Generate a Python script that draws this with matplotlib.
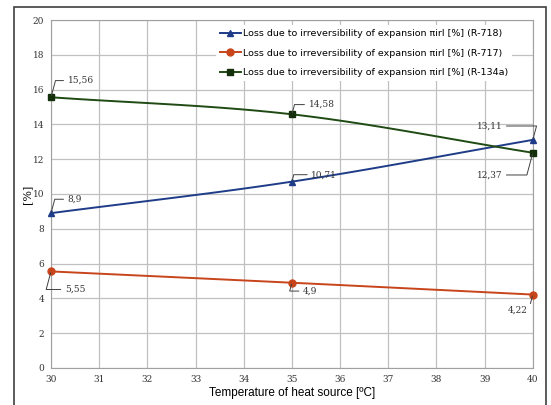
import numpy as np
import matplotlib.pyplot as plt
from matplotlib.patches import Rectangle

temps = [30, 35, 40]
loss_r718 = [8.9, 10.71, 13.11]
loss_r717 = [5.55, 4.9, 4.22]
loss_r134a = [15.56, 14.58, 12.37]

names = ["Loss due to irreversibility of expansion \u03c0irl [%] (R-718)",
         "Loss due to irreversibility of expansion \u03c0irl [%] (R-717)",
         "Loss due to irreversibility of expansion \u03c0irl [%] (R-134a)"]


def smooth(x, y, n=30):
    # catmull-rom curve through the points, like a "smoothed line" in a spreadsheet
    x = np.asarray(x, float)
    y = np.asarray(y, float)
    px = np.concatenate([[2 * x[0] - x[1]], x, [2 * x[-1] - x[-2]]])
    py = np.concatenate([[2 * y[0] - y[1]], y, [2 * y[-1] - y[-2]]])
    xs, ys = [], []
    t = np.linspace(0, 1, n)
    for i in range(1, len(px) - 2):
        for p, out in ((px, xs), (py, ys)):
            p0, p1, p2, p3 = p[i - 1], p[i], p[i + 1], p[i + 2]
            out.extend(0.5 * (2 * p1 + (-p0 + p2) * t
                              + (2 * p0 - 5 * p1 + 4 * p2 - p3) * t ** 2
                              + (-p0 + 3 * p1 - 3 * p2 + p3) * t ** 3))
    return xs, ys


fig = plt.figure(figsize=(5.51, 4.05), dpi=100)
fig.patches.append(Rectangle((14 / 551, -0.1), 532 / 551, 1.1 - 7 / 405,
                             transform=fig.transFigure, fill=False,
                             edgecolor='#404040', linewidth=1.2))
ax = fig.add_axes([0.0926, 0.0914, 0.8744, 0.8592])

series = [
    (loss_r718, '#1f3c88', '^', '#1f3c88'),
    (loss_r717, '#c8441b', 'o', '#c8441b'),
    (loss_r134a, '#1f4a13', 's', '#13300a'),
]
for (vals, col, mk, mcol), name in zip(series, names):
    sx, sy = smooth(temps, vals)
    ax.plot(sx, sy, color=col, linewidth=1.4, zorder=3, clip_on=False)
    ax.plot(temps, vals, linestyle='none', marker=mk, markersize=5,
            color=mcol, zorder=4, clip_on=False)
    ax.plot([], [], color=col, marker=mk, markersize=5, linewidth=1.4,
            markerfacecolor=mcol, markeredgecolor=mcol, label=name)


def fmt(v):
    return ('%g' % v).replace('.', ',')


# label offsets in points (dx, dy)
offsets = {
    (0, 0): (12, 10), (0, 1): (14, 5), (0, 2): (-22, 10),
    (1, 0): (10, -13), (1, 1): (8, -6), (1, 2): (-4, -11),
    (2, 0): (12, 12), (2, 1): (12, 7), (2, 2): (-22, -16),
}
for si, (vals, *_rest) in enumerate(series):
    for pi, (x, v) in enumerate(zip(temps, vals)):
        dx, dy = offsets[(si, pi)]
        ax.annotate(fmt(v), (x, v), xytext=(dx, dy), textcoords='offset points',
                    fontsize=6.5, family='DejaVu Serif', color='#333333',
                    ha='left' if dx > 0 else 'right', va='center',
                    arrowprops=dict(arrowstyle='-', color='#404040', lw=0.7,
                                    shrinkA=1, shrinkB=1,
                                    connectionstyle='angle,angleA=0,angleB=75,rad=0'),
                    zorder=5, annotation_clip=False)

ax.set_xlim(30, 40)
ax.set_ylim(0, 20)
ax.set_xticks(range(30, 41))
ax.set_yticks(range(0, 21, 2))
ax.grid(True, color='#c0c0c0', linewidth=0.9)
ax.set_axisbelow(True)
for s in ax.spines.values():
    s.set_color('#a0a0a0')
ax.tick_params(length=0, labelsize=6.5, labelcolor='#333333', pad=5)
for lab in ax.get_xticklabels() + ax.get_yticklabels():
    lab.set_family('DejaVu Serif')

ax.set_xlabel('Temperature of heat source [\u00baC]', fontsize=8.5,
              family='Liberation Sans', labelpad=2)
ax.set_ylabel('[%]', fontsize=8, family='DejaVu Serif', labelpad=0)

leg = ax.legend(loc='upper right', bbox_to_anchor=(0.96, 0.99), frameon=True,
                fontsize=6.8, handlelength=2.2, handletextpad=0.2,
                labelspacing=1.1, borderaxespad=0.2)
leg.get_frame().set_edgecolor('none')
leg.get_frame().set_facecolor('white')
leg.get_frame().set_alpha(1)

fig.savefig('out.png', dpi=100)
